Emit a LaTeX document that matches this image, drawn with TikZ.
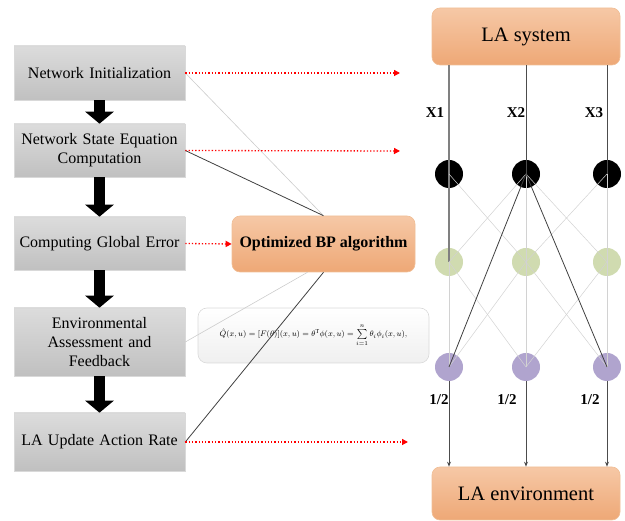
\documentclass[tikz,border=0pt]{standalone}
\usepackage{fontspec}
\setmainfont{Liberation Serif}
\usetikzlibrary{arrows.meta,shapes.geometric}
\definecolor{orT}{RGB}{246,200,166}
\definecolor{orB}{RGB}{238,168,118}
\definecolor{orD}{RGB}{240,190,150}
\definecolor{grT}{RGB}{220,220,220}
\definecolor{grB}{RGB}{192,192,192}
\definecolor{gnF}{RGB}{208,219,176}
\definecolor{puF}{RGB}{176,164,206}
\begin{document}
\begin{tikzpicture}[x=1pt,y=-1pt,
  stepbox/.style={rectangle,top color=grT,bottom color=grB,draw=gray!30,line width=0.6pt,
    minimum width=171pt,inner sep=0pt,align=center,text width=168pt,
    font=\fontsize{16}{19}\selectfont},
  orbox/.style={rectangle,rounded corners=8pt,top color=orT,bottom color=orB,draw=orD,line width=0.6pt,
    minimum width=188pt,inner sep=0pt,font=\fontsize{20.5}{22}\selectfont},
  blockarrow/.style={line width=11pt,-{Triangle[width=28pt,length=12pt]}},
  reddot/.style={red,dotted,line width=1.3pt,-{Triangle[length=6pt,width=6pt]}},
  neuron/.style={circle,minimum size=28pt,inner sep=0pt},
  thinl/.style={gray!35,line width=0.5pt},
  darkl/.style={black!75,line width=0.8pt},
  lab/.style={font=\bfseries\fontsize{15}{16}\selectfont}
]
\useasboundingbox (0,0) rectangle (625,521);

% left flow boxes
\node[stepbox,minimum height=54pt] (b1) at (99.5,73) {Network Initialization};
\node[stepbox,minimum height=53pt] (b2) at (99.5,150.5) {Network State Equation\\Computation};
\node[stepbox,minimum height=53pt] (b3) at (99.5,243.5) {Computing Global Error};
\node[stepbox,minimum height=68pt] (b4) at (99.5,342) {Environmental\\Assessment and\\Feedback};
\node[stepbox,minimum height=58pt] (b5) at (99.5,442) {LA Update Action Rate};

\draw[blockarrow] (b1.south) -- (b2.north);
\draw[blockarrow] (b2.south) -- (b3.north);
\draw[blockarrow] (b3.south) -- (b4.north);
\draw[blockarrow] (b4.south) -- (b5.north);

% BP box
\node[orbox,minimum width=183pt,minimum height=56pt,font=\bfseries\fontsize{16}{18}\selectfont] (bp) at (323.5,244) {Optimized BP algorithm};

% formula box
\node[rectangle,rounded corners=9pt,top color=white,bottom color=gray!12,draw=gray!30,line width=0.6pt,
  minimum width=231pt,minimum height=55pt,inner sep=0pt] (fb) at (313.5,335.5)
  {\fontsize{8.5}{10}\selectfont$\hat{Q}(x,u)=[F(\theta)](x,u)=\theta^{\mathrm{T}}\phi(x,u)=\sum\limits_{i=1}^{n}\theta_i\phi_i(x,u),$};

% right side
\node[orbox,minimum height=57pt] (sys) at (526,36.5) {LA system};
\node[orbox,minimum height=53pt] (env) at (526,493.5) {LA environment};

\node[neuron,fill=black] (k1) at (449,174) {};
\node[neuron,fill=black] (k2) at (526,174) {};
\node[neuron,fill=black] (k3) at (607,174) {};
\node[neuron,fill=gnF] (g1) at (449,262) {};
\node[neuron,fill=gnF] (g2) at (526,262) {};
\node[neuron,fill=gnF] (g3) at (607,262) {};
\node[neuron,fill=puF] (p1) at (449,367) {};
\node[neuron,fill=puF] (p2) at (526,367) {};
\node[neuron,fill=puF] (p3) at (607,367) {};

% inputs
\draw[gray,line width=1.3pt] (sys.south -| k1) -- (k1.center);
\draw[black!70,line width=0.9pt] (sys.south -| k2) -- (k2.center);
\draw[black!70,line width=0.9pt] (sys.south -| k3) -- (k3.center);

% hidden connections
\draw[gray,line width=1.3pt] (k1.center) -- (g1.center);
\draw[thinl] (k1.center) -- (g2.center);
\draw[thinl] (k2.center) -- (g1.center);
\draw[thinl] (k2.center) -- (g2.center);
\draw[thinl] (k2.center) -- (g3.center);
\draw[thinl] (k3.center) -- (g2.center);
\draw[thinl] (k3.center) -- (g3.center);
\draw[thinl] (g1.center) -- (p1.center);
\draw[thinl] (g1.center) -- (p2.center);
\draw[thinl] (g2.center) -- (p1.center);
\draw[thinl] (g2.center) -- (p2.center);
\draw[thinl] (g2.center) -- (p3.center);
\draw[thinl] (g3.center) -- (p2.center);
\draw[thinl] (g3.center) -- (p3.center);
\draw[darkl] (k2.center) -- (p1.center);
\draw[darkl] (k2.center) -- (p3.center);

% outputs
\foreach \p in {p1,p2,p3}
  \draw[black!70,line width=0.9pt,-{Stealth[length=5pt,width=4pt]}] (\p.south) -- (env.north -| \p);

% labels
\node[lab] (x1) at (435,113) {X1};
\node[lab] (x2) at (516,113) {X2};
\node[lab] (x3) at (594,113) {X3};
\node[lab] (h1) at (439,400) {1/2};
\node[lab] (h2) at (507,400) {1/2};
\node[lab] (h3) at (590,400) {1/2};

% lines to BP box
\draw[gray!40,line width=0.6pt] (b1.east) -- (bp.north);
\draw[black!75,line width=0.8pt] (b2.east) -- (bp.north);
\draw[gray!40,line width=0.6pt] (b4.east) -- ([xshift=-16pt]bp.south);
\draw[black!75,line width=0.8pt] (b5.east) -- (bp.south);

% red dotted arrows
\coordinate (r1) at (400,73);
\coordinate (r2) at (400,151);
\coordinate (r5) at (408,442);
\draw[reddot] (b1.east) -- (r1);
\draw[reddot] (b2.east) -- (r2);
\draw[reddot] (b3.east) -- (bp.west);
\draw[reddot] (b5.east) -- (r5);
\end{tikzpicture}
\end{document}
